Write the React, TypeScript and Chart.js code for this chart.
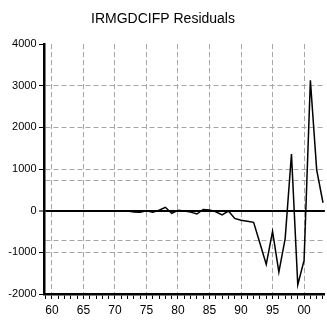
import React, { useEffect, useRef } from "react";
import { Chart, registerables } from "chart.js";

Chart.register(...registerables);

const chartTitle = "IRMGDCIFP Residuals";

const years: number[] = [
  1959, 1960, 1961, 1962, 1963, 1964, 1965, 1966, 1967, 1968,
  1969, 1970, 1971, 1972, 1973, 1974, 1975, 1976, 1977, 1978,
  1979, 1980, 1981, 1982, 1983, 1984, 1985, 1986, 1987, 1988,
  1989, 1990, 1991, 1992, 1993, 1994, 1995, 1996, 1997, 1998,
  1999, 2000, 2001, 2002, 2003,
];

const residuals: number[] = [
  0, 0, 0, 0, 0, 0, 0, 0, 0, 0,
  0, 0, 0, -10, -30, -40, 0, -40, 10, 80,
  -65, 10, -10, -35, -80, 30, 15, -25, -100, -10,
  -185, -230, -255, -280, -780, -1290, -495, -1475, -670, 1360,
  -1778, -1193, 3130, 980, 190,
];

const yTickValues: number[] = [-2000, -1000, 0, 1000, 2000, 3000, 4000];
const bandValue = 720;
const xAxisMin = 1958.75;
const xAxisMax = 2003.3;

const GRID = "#a6a6a6";
const FONT = "'Liberation Sans', Arial, sans-serif";

export default function App() {
  const ref = useRef<HTMLCanvasElement | null>(null);

  useEffect(() => {
    document.body.style.margin = "0";
    const canvas = ref.current;
    if (!canvas) return;

    const yAll = [...yTickValues, bandValue, -bandValue].sort((a, b) => a - b);

    const chart = new Chart(canvas, {
      type: "line",
      data: {
        datasets: [
          {
            data: years.map((yr, i) => ({ x: yr, y: residuals[i] })),
            borderColor: "#000000",
            borderWidth: 1.5,
            pointRadius: 0,
            tension: 0,
            fill: false,
          },
        ],
      },
      options: {
        responsive: false,
        animation: false,
        layout: { padding: { top: 0, left: 0, right: 1, bottom: 0 } },
        plugins: {
          legend: { display: false },
          tooltip: { enabled: false },
          title: {
            display: true,
            text: chartTitle,
            color: "#000000",
            font: { family: FONT, size: 14, weight: "normal", lineHeight: 1.2 },
            padding: { top: 10.5, bottom: 16.7 },
          },
        },
        scales: {
          x: {
            type: "linear",
            min: xAxisMin,
            max: xAxisMax,
            afterBuildTicks: (s: any) => {
              s.ticks = years.map((v) => ({ value: v }));
            },
            afterFit: (s: any) => {
              s.height = 28;
            },
            ticks: {
              autoSkip: false,
              maxRotation: 0,
              minRotation: 0,
              padding: 4,
              color: "#000000",
              font: { family: FONT, size: 12 },
              callback: (v: any) =>
                Number(v) % 5 === 0 ? String(Number(v) % 100).padStart(2, "0") : "",
            },
            grid: {
              color: (ctx: any) =>
                ctx.tick && ctx.tick.value % 5 === 0 ? GRID : "rgba(0,0,0,0)",
              lineWidth: 1,
              drawTicks: true,
              tickLength: 5,
              tickColor: "#000000",
              tickWidth: 1,
            },
            border: {
              display: true,
              color: "#000000",
              width: 2.5,
              dash: (ctx: any) => (ctx.type === "tick" ? [5, 3] : []),
            },
          },
          y: {
            type: "linear",
            min: -2000,
            max: 4000,
            afterBuildTicks: (s: any) => {
              s.ticks = yAll.map((v) => ({ value: v }));
            },
            afterFit: (s: any) => {
              s.width = 44;
            },
            ticks: {
              autoSkip: false,
              padding: 2.5,
              color: "#000000",
              font: { family: FONT, size: 11 },
              callback: (v: any) => (yTickValues.includes(Number(v)) ? String(v) : ""),
            },
            grid: {
              color: (ctx: any) => {
                const v = ctx.tick ? ctx.tick.value : null;
                if (v === 4000 || v === -2000) return "rgba(0,0,0,0)";
                if (v === 0) return "#000000";
                return GRID;
              },
              lineWidth: (ctx: any) => (ctx.tick && ctx.tick.value === 0 ? 2 : 1),
              drawTicks: true,
              tickLength: 5,
              tickColor: (ctx: any) =>
                ctx.tick && yTickValues.includes(ctx.tick.value) ? "#000000" : "rgba(0,0,0,0)",
              tickWidth: 1,
            },
            border: {
              display: true,
              color: "#000000",
              width: 2.5,
              dash: (ctx: any) =>
                ctx.type === "tick" && ctx.tick && ctx.tick.value !== 0 ? [5, 3] : [],
            },
          },
        },
      } as any,
    });

    return () => chart.destroy();
  }, []);

  return (
    <div style={{ position: "fixed", left: 0, top: 0, width: 327, height: 322 }}>
      <canvas ref={ref} width={327} height={322} style={{ display: "block" }} />
    </div>
  );
}
